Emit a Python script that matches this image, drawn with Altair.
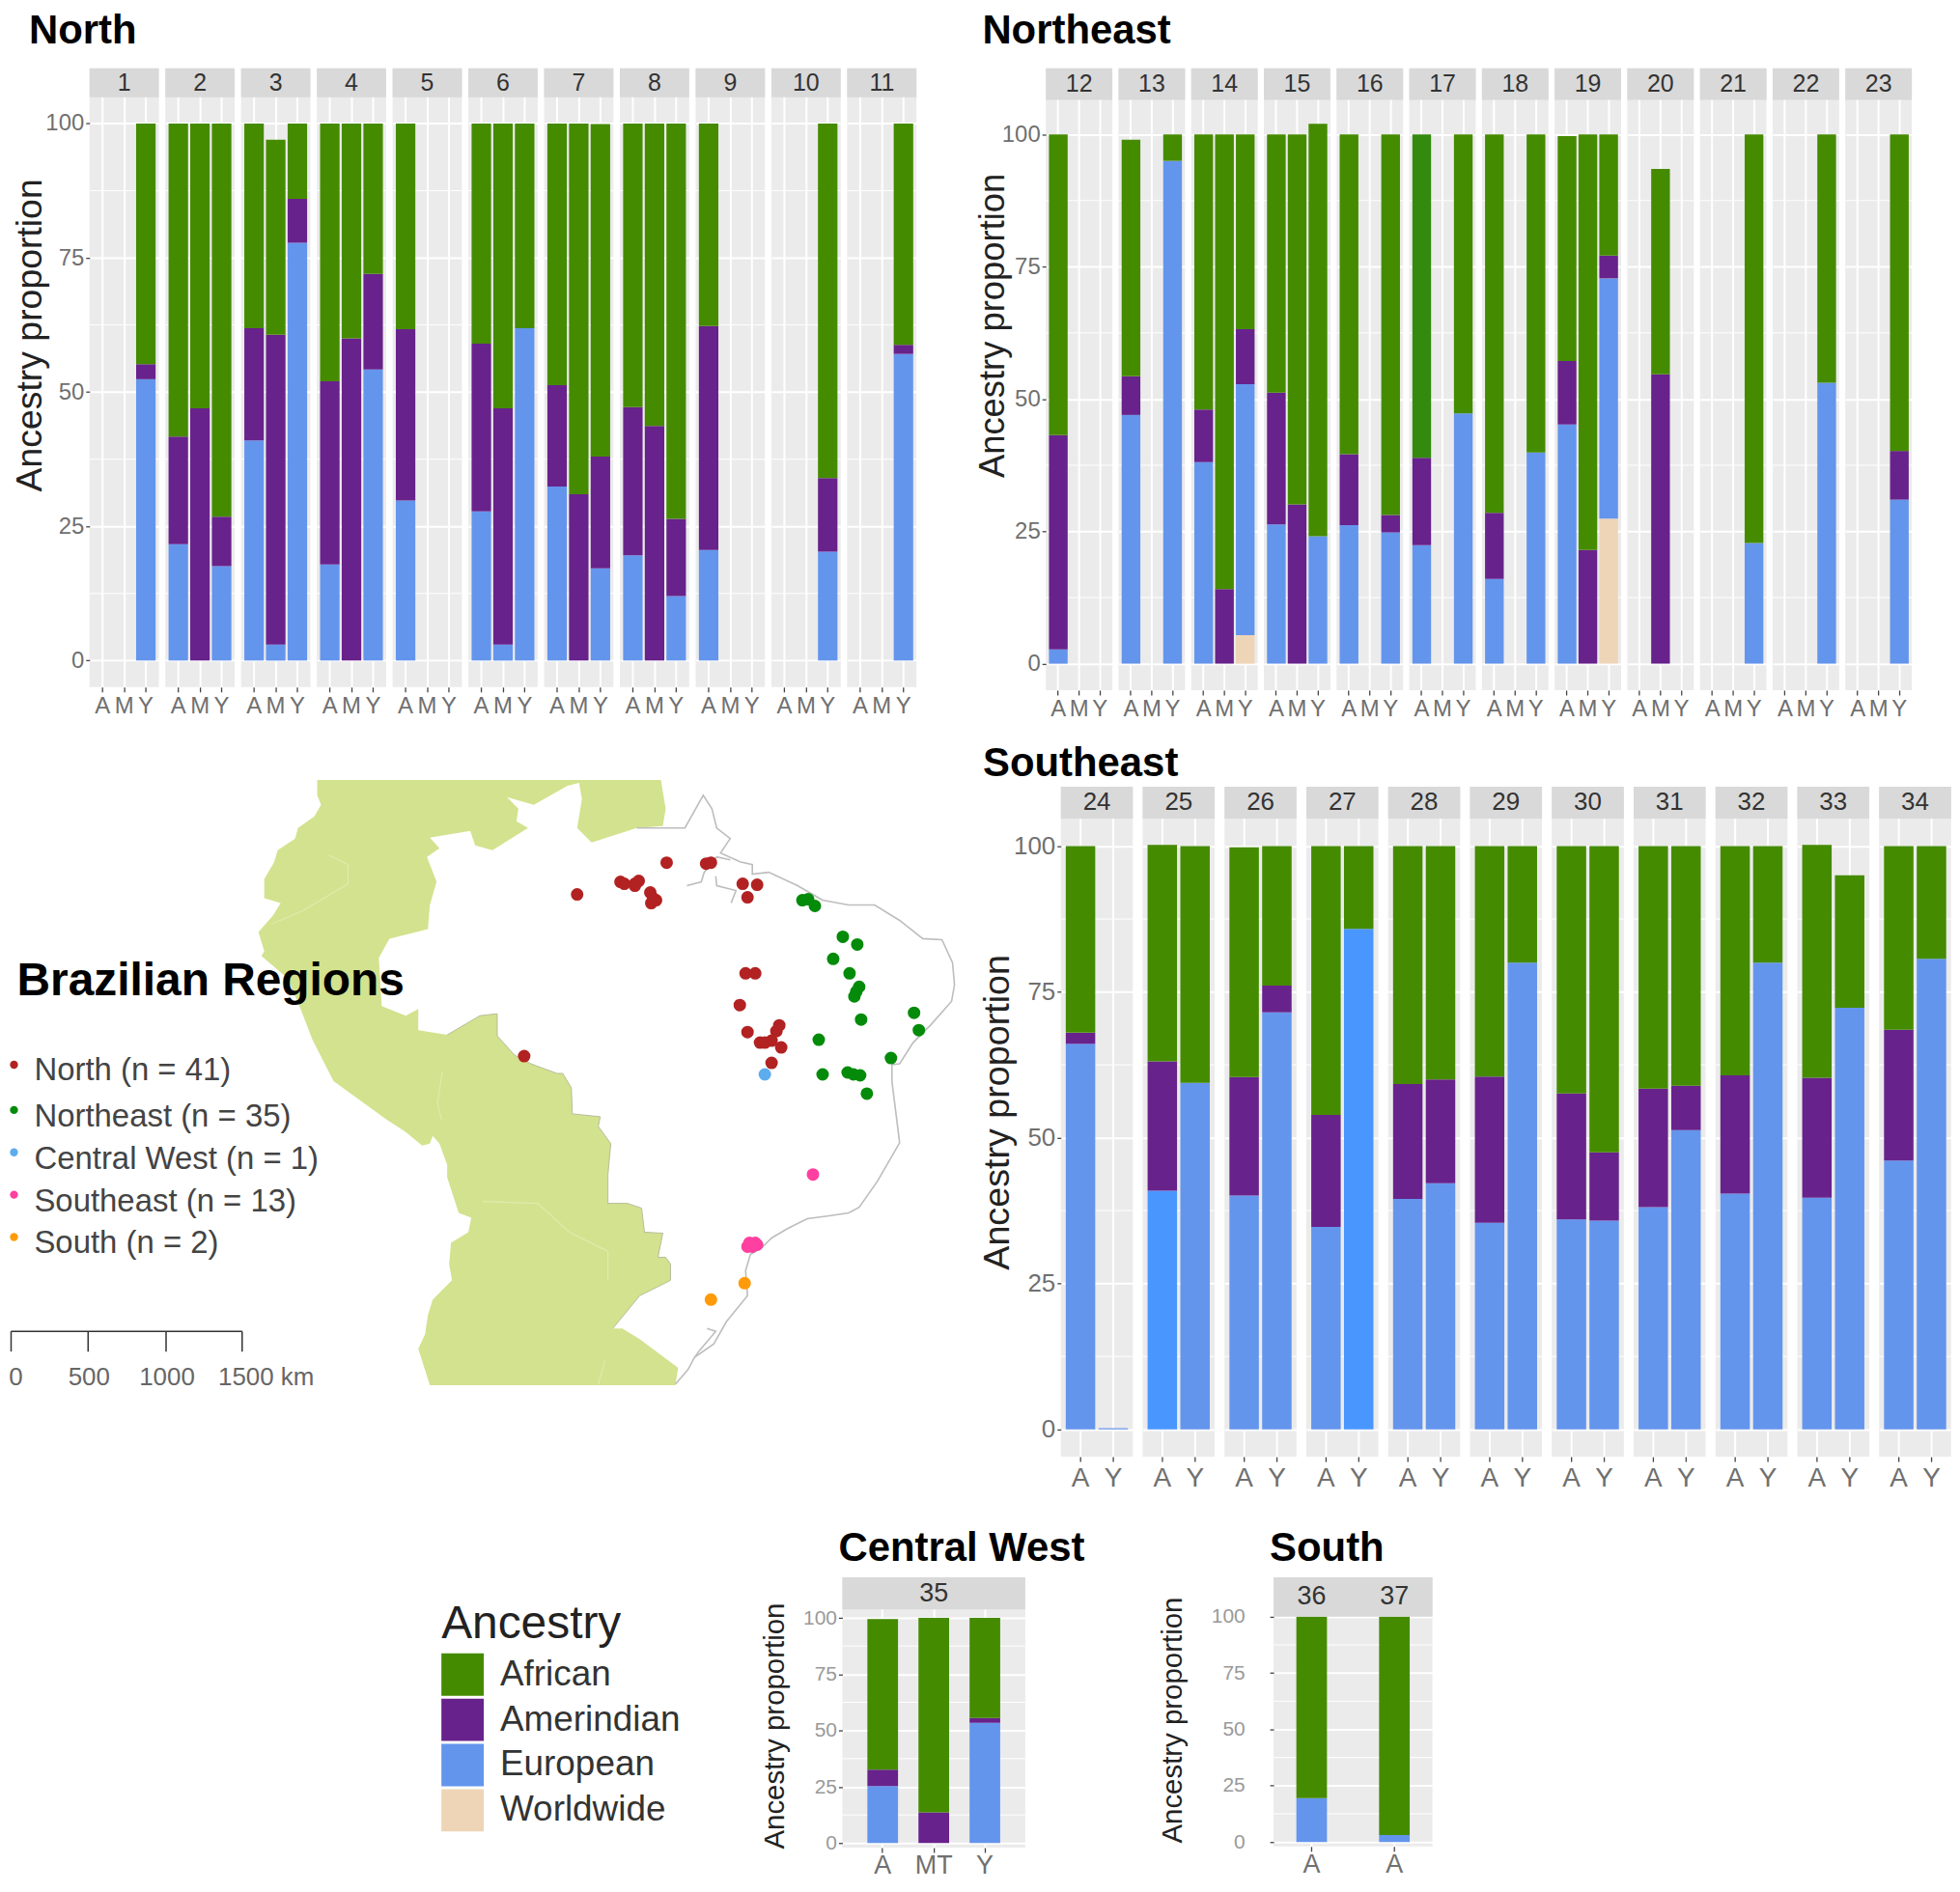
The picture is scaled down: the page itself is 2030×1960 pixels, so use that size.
import altair as alt
import pandas as pd

# ---------- ancestry values: cumulative tops of each stacked bar ----------
NORTH_PANEL = [1, 2, 2, 2, 3, 3, 3, 4, 4, 4, 5, 6, 6, 6, 7, 7, 7, 8, 8, 8, 9, 10, 11]
NORTH_AGE = ["Y", "A", "M", "Y", "A", "M", "Y", "A", "M", "Y", "A", "A", "M", "Y", "A", "M", "Y", "A", "M", "Y", "A", "Y", "Y"]
NORTH_EUR = [52.4, 21.7, 0, 17.6, 41, 3, 77.8, 17.9, 0, 54.2, 29.8, 27.8, 3, 61.9, 32.4, 0, 17.2, 19.6, 0, 12, 20.6, 20.3, 57.1]
NORTH_AME = [55.2, 41.7, 47, 26.8, 61.9, 60.7, 86, 52, 60, 72, 61.7, 59, 47, 61.9, 51.3, 31, 38, 47.2, 43.7, 26.4, 62.3, 34, 58.8]
NORTH_AFR = [100, 100, 100, 100, 100, 97, 100, 100, 100, 100, 100, 100, 100, 100, 100, 100, 99.9, 100, 100, 100, 100, 100, 100]

NE_PANEL = [12, 13, 13, 14, 14, 14, 15, 15, 15, 16, 16, 17, 17, 18, 18, 19, 19, 19, 20, 21, 22, 23]
NE_AGE = ["A", "A", "Y", "A", "M", "Y", "A", "M", "Y", "A", "Y", "A", "Y", "A", "Y", "A", "M", "Y", "M", "Y", "Y", "Y"]
NE_WOR = [0, 0, 0, 0, 0, 5.4, 0, 0, 0, 0, 0, 0, 0, 0, 0, 0, 0, 27.4, 0, 0, 0, 0]
NE_EUR = [2.7, 47, 95, 38.1, 0, 52.8, 26.3, 0, 24.1, 26.2, 24.8, 22.4, 47.3, 16, 39.9, 45.2, 0, 72.8, 0, 22.8, 53.1, 31]
NE_AME = [43.2, 54.3, 95, 48, 14.1, 63.2, 51.2, 30.1, 24.1, 39.6, 28.1, 38.9, 47.3, 28.5, 39.9, 57.2, 21.5, 77.1, 54.7, 22.8, 53.1, 40.2]
NE_AFR = [100, 99, 100, 100, 100, 100, 100, 100, 102, 100, 100, 100, 100, 100, 100, 99.7, 100, 100, 93.5, 100, 100, 100]

SE_PANEL = [24, 24, 25, 25, 26, 26, 27, 27, 28, 28, 29, 29, 30, 30, 31, 31, 32, 32, 33, 33, 34, 34]
SE_AGE = ["A", "Y"] * 11
SE_EUR = [66.1, 0.2, 40.9, 59.4, 40.1, 71.5, 34.7, 85.8, 39.5, 42.2, 35.4, 80, 36, 35.8, 38.1, 51.3, 40.4, 80, 39.7, 72.3, 46.1, 80.7]
SE_AME = [68, 0.2, 63.1, 59.4, 60.4, 76.1, 53.9, 85.8, 59.2, 60, 60.5, 80, 57.6, 47.5, 58.4, 58.9, 60.7, 80, 60.3, 72.3, 68.5, 80.7]
SE_AFR = [100, 0.2, 100.2, 100, 99.8, 100, 100, 100, 100, 100, 100, 100, 100, 100, 100, 100, 100, 100, 100.2, 95, 100, 100]

CW_AGE = ["A", "MT", "Y"]
CW_EUR = [25.3, 0, 53.4]
CW_AME = [32.6, 13.6, 55.5]
CW_AFR = [99.5, 100, 100]

SOUTH_PANEL = ["36", "37"]
SOUTH_EUR = [19.5, 3.1]
SOUTH_AFR = [100, 100]

# bars that are a brighter shade in the picture
BRIGHT = {(17, "A", "African"), (25, "A", "European"), (27, "Y", "European")}

ANCESTRY = ["African", "Amerindian", "European", "Worldwide"]
ANCESTRY_COLORS = ["#458B00", "#68228B", "#6495ED", "#EED5B7"]
ALL_SHADES = ANCESTRY + ["African bright", "European bright"]
ALL_COLORS = ANCESTRY_COLORS + ["#338A0F", "#4A96FF"]

# ---------- map data (map units, y pointing down) ----------
LAND = [(328,807),(328,823),(332,833),(325,845),(308,857),(305,868),(287,880),(283,893),(273,910),(273,930),(290,935),(282,948),(267,965),(273,985),(270,990),(297,1013),(310,1043),(323,1077),(345,1120),(400,1160),(420,1173),(437,1187),(445,1185),(448,1177),(455,1185),(463,1207),(463,1220),(475,1257),(488,1262),(485,1277),(467,1288),(465,1310),(468,1327),(448,1347),(443,1363),(440,1383),(433,1398),(445,1436),(700,1436),(703,1418),(663,1388),(645,1377),(635,1377),(663,1343),(695,1327),(695,1310),(690,1303),(682,1303),(687,1278),(668,1277),(665,1252),(650,1247),(630,1247),(630,1217),(633,1185),(620,1167),(622,1157),(593,1154),(592,1127),(583,1112),(577,1112),(550,1102),(533,1093),(515,1073),(515,1050),(497,1052),(463,1072),(433,1067),(433,1045),(420,1052),(395,1042),(392,992),(403,972),(443,962),(445,937),(452,913),(442,887),(455,878),(445,867),(487,860),(492,875),(510,880),(547,857),(535,850),(537,837),(525,825),(553,833),(588,813),(600,810),(603,827),(598,857),(613,872),(660,857),(687,855),(690,837),(685,807)]
COAST = [(660,857),(687,857),(710,857),(729,823),(738,837),(743,857),(757,868),(747,883),(767,892),(780,895),(780,905),(797,903),(827,917),(853,932),(880,937),(907,937),(933,953),(957,972),(977,973),(988,997),(990,1020),(987,1037),(965,1062),(947,1080),(933,1102),(925,1103),(925,1120),(929,1152),(933,1184),(910,1224),(891,1251),(880,1257),(860,1260),(837,1263),(817,1273),(800,1283),(790,1293),(778,1300),(773,1317),(775,1343),(753,1370),(740,1393),(720,1407),(713,1420),(700,1435)]
RIVER_A = [(712,917),(727,913),(730,903),(743,887),(757,890)]
RIVER_B = [(758,935),(763,922),(743,917),(742,907)]
LAGOON = [(733,1377),(742,1380),(725,1400),(720,1407)]
WEST_BORDER = [(463,1072),(497,1052),(515,1050),(515,1073),(533,1093),(550,1102),(577,1112),(583,1112),(592,1127),(593,1154),(622,1157),(620,1167),(633,1185),(630,1217),(630,1247),(650,1247),(665,1252),(668,1277),(687,1278),(682,1303),(690,1303),(695,1310),(695,1327),(663,1343),(635,1377)]
INNER_A = [(458,1110),(453,1143),(457,1160)]
INNER_B = [(500,1245),(557,1247),(590,1277),(630,1297),(630,1327)]
INNER_C = [(627,1410),(620,1435)]
INNER_D = [(340,885),(360,895),(360,915),(313,943),(280,957)]

SITE_X = {
    "North": [598,643,647,658,662,658,674,680,675,677,691,543,732,737,770,785,775,773,783,767,775,808,805,800,788,793,810,800],
    "Northeast": [832,838,845,874,889,864,881,891,888,886,893,948,953,849,924,853,879,885,892,899],
    "Central West": [793],
    "Southeast": [843,777,783,780,775,785],
    "South": [772,737],
}
SITE_Y = {
    "North": [926,913,915,915,912,917,924,932,935,930,893,1094,894,893,915,916,929,1008,1008,1041,1069,1062,1068,1078,1080,1080,1085,1101],
    "Northeast": [932,931,938,970,978,993,1008,1022,1027,1032,1056,1049,1067,1077,1096,1113,1111,1113,1114,1133],
    "Central West": [1113],
    "Southeast": [1217,1288,1288,1292,1292,1290],
    "South": [1330,1347],
}
REGIONS = ["North", "Northeast", "Central West", "Southeast", "South"]
REGION_COLORS = ["#B22222", "#048B0A", "#5CADEE", "#FF40A0", "#FF9B0A"]
REGION_LABELS = ["North (n = 41)", "Northeast (n = 35)", "Central West (n = 1)", "Southeast (n = 13)", "South (n = 2)"]
KEY_DOT_X = [13, 13, 13, 13, 13]
KEY_DOT_Y = [1103, 1150, 1194, 1238, 1282]
KEY_TEXT_X = [34, 34, 34, 34, 34]
KEY_TEXT_Y = [1119, 1167, 1211, 1255, 1299]

BAR_X = [10, 90, 171, 250]
BAR_LABELS = ["0", "500", "1000", "1500 km"]
BAR_LABEL_X = [15, 91, 172, 275]
BAR_TOP = 1380
BAR_BOTTOM = 1401
BAR_LABEL_Y = 1436

# ---------- layout constants ----------
ORIGIN_X = 91.5
ROW2_TOP = 814
FONT = "Liberation Sans"
STRIP = "#D9D9D9"
PANEL_BG = "#EBEBEB"
MAJOR = [0, 25, 50, 75, 100]
MINOR = [12.5, 37.5, 62.5, 87.5]

ANCESTRY_LEGEND = alt.Legend(
    orient="none", legendX=365.5, legendY=1593, values=ANCESTRY, title="Ancestry", titleFontSize=48,
    titleFontWeight="normal", titleColor="#222222", titlePadding=6, titleLimit=400, labelFontSize=37,
    labelColor="#333333", symbolType="square", symbolSize=1936, symbolStrokeWidth=0, rowPadding=3,
    labelOffset=17, labelLimit=300, padding=0)


def segments(panel, age, wor, eur, ame, afr):
    out = []
    for name, lo, hi in (("Worldwide", 0, wor), ("European", wor, eur),
                         ("Amerindian", eur, ame), ("African", ame, afr)):
        if hi > lo:
            shade = name + " bright" if (panel, age, name) in BRIGHT else name
            out.append({"cat": age, "lo": lo, "hi": hi, "anc": shade})
    return out


def panel(label, rows, cats, w, ydom, ppu, strip_lo, pi=0.1, po=0.15, left=None,
          strip_size=25, tick_size=24, x_size=24, y_color="#707070", x_color="#707070",
          strip_cats=None, label_expr=None, y_pad=2, x_pad=3):
    h = round((ydom[1] - ydom[0]) * ppu, 1)
    yscale = alt.Scale(domain=ydom, nice=False, zero=False)
    if left:
        yaxis = alt.Axis(values=MAJOR, grid=True, gridColor="white", gridWidth=2, domain=False,
                         tickColor="#444444", tickSize=4, tickWidth=1.3, labelFontSize=tick_size,
                         labelColor=y_color, labelPadding=y_pad, title="Ancestry proportion",
                         titleFontSize=left["size"], titleFontWeight="normal", titleColor="#222222",
                         titleX=left["x"], titleY=left["y"], labelOverlap=False)
    else:
        yaxis = alt.Axis(values=MAJOR, grid=True, gridColor="white", gridWidth=2, domain=False,
                         ticks=False, labels=False, title=None)
    xprops = dict(title=None, labelAngle=0, grid=True, gridColor="white", gridWidth=2, domain=False,
                  tickColor="#444444", tickSize=5, tickWidth=1.3, labelFontSize=x_size,
                  labelColor=x_color, labelPadding=x_pad, labelOverlap=False)
    if label_expr:
        xprops["labelExpr"] = label_expr
    xaxis = alt.Axis(**xprops)
    xscale = alt.Scale(domain=cats, paddingInner=pi, paddingOuter=po)
    color = alt.Color("anc:N", scale=alt.Scale(domain=ALL_SHADES, range=ALL_COLORS), legend=ANCESTRY_LEGEND)
    ychan = lambda f: alt.Y(f, scale=yscale, axis=yaxis)

    minor = alt.Chart(pd.DataFrame({"v": MINOR})).mark_rule(color="white", strokeWidth=1).encode(
        y=ychan("v:Q"), x=alt.value(0), x2=alt.value(w))
    bars = alt.Chart(pd.DataFrame(rows)).mark_bar().encode(
        x=alt.X("cat:N", scale=xscale, axis=xaxis, sort=cats),
        y=ychan("lo:Q"), y2="hi:Q", color=color)
    strip = alt.Chart(pd.DataFrame({"lo": [strip_lo], "hi": [ydom[1]]})).mark_rect(color=STRIP).encode(
        y=ychan("lo:Q"), y2="hi:Q", x=alt.value(0), x2=alt.value(w))
    mid = (strip_lo + ydom[1]) / 2
    text_style = dict(fontSize=strip_size, color="#333333", baseline="middle", align="center")
    if strip_cats:
        strip_text = alt.Chart(pd.DataFrame({"cat": cats, "t": strip_cats, "m": [mid] * len(cats)})).mark_text(**text_style).encode(
            x=alt.X("cat:N", scale=xscale, axis=xaxis, sort=cats),
            y=ychan("m:Q"), text="t:N")
    else:
        strip_text = alt.Chart(pd.DataFrame({"t": [str(label)], "m": [mid]})).mark_text(**text_style).encode(
            x=alt.value(w / 2), y=ychan("m:Q"), text="t:N")
    return alt.layer(minor, bars, strip, strip_text).properties(
        width=w, height=h, view=alt.ViewBackground(fill=PANEL_BG, stroke=None))


def region_rows(panels, ages, eur, ame, afr, wor=None):
    by_panel = {}
    wor = wor or [0] * len(panels)
    for p, a, w_, e, m, f in zip(panels, ages, wor, eur, ame, afr):
        by_panel.setdefault(p, []).extend(segments(p, a, w_, e, m, f))
    return by_panel


def region_title(text, dx, offset, dy=0):
    return alt.TitleParams(text=text, anchor="start", fontSize=42, fontWeight="bold", color="#000000",
                           dx=dx, dy=dy, offset=offset, frame="group")


# ---------- North ----------
north = region_rows(NORTH_PANEL, NORTH_AGE, NORTH_EUR, NORTH_AME, NORTH_AFR)
north_charts = []
for i, p in enumerate(sorted(north)):
    north_charts.append(panel(
        p, north[p], ["A", "M", "Y"], 72, [-4.93, 110.3], 5.58, 104.9,
        left=dict(size=37.5, x=-42, y=277) if i == 0 else None))
north_group = alt.hconcat(*north_charts, spacing=4.7).properties(title=region_title("North", -63, 0.5, -16))

# ---------- Northeast ----------
ne = region_rows(NE_PANEL, NE_AGE, NE_EUR, NE_AME, NE_AFR, NE_WOR)
ne_charts = []
for i, p in enumerate(sorted(ne)):
    ne_charts.append(panel(
        p, ne[p], ["A", "M", "Y"], 69.1, [-5, 112.5], 5.5, 106.5,
        left=dict(size=36.5, x=-36, y=267) if i == 0 else None))
ne_group = alt.hconcat(*ne_charts, spacing=4.5).properties(title=region_title("Northeast", -66, 0.5, -16))

# ---------- Southeast ----------
se = region_rows(SE_PANEL, SE_AGE, SE_EUR, SE_AME, SE_AFR)
se_charts = []
for i, p in enumerate(sorted(se)):
    se_charts.append(panel(
        p, se[p], ["A", "Y"], 74.8, [-4.7, 110.2], 6.06, 104.7,
        strip_size=26, tick_size=26, x_size=28,
        left=dict(size=37.8, x=-46, y=338) if i == 0 else None))
se_group = alt.hconcat(*se_charts, spacing=8).properties(title=region_title("Southeast", -81, 2))

# ---------- Central West / South ----------
cw_rows = []
for a, e, m, f in zip(CW_AGE, CW_EUR, CW_AME, CW_AFR):
    cw_rows.extend(segments(35, a, 0, e, m, f))
cw = panel(35, cw_rows, CW_AGE, 190, [-2, 118], 2.34, 103.8, pi=0.4, po=0.49,
           strip_size=27, tick_size=21, x_size=27, y_color="#999999", x_pad=1,
           left=dict(size=29.5, x=-55, y=154)).properties(title=region_title("Central West", -4, 8))

south_cats = ["36 A", "37 A"]
south_rows = []
for c, e, f in zip(south_cats, SOUTH_EUR, SOUTH_AFR):
    south_rows.extend(segments(c, c, 0, e, e, f))
south = panel("", south_rows, south_cats, 165, [-2, 117.5], 2.34, 100, pi=0.63, po=0.275,
              strip_size=27, tick_size=21, x_size=27, y_color="#999999", x_pad=1,
              strip_cats=SOUTH_PANEL, label_expr="'A'", y_pad=26,
              left=dict(size=29.5, x=-90, y=148)).properties(title=region_title("South", -4, 8))

spacer = alt.Chart(pd.DataFrame({"v": [0]})).mark_rect(opacity=0).encode(
    x=alt.value(0), x2=alt.value(0), y=alt.value(0), y2=alt.value(0)
).properties(width=680, height=250, view=alt.ViewBackground(fill=None, stroke=None))


# ---------- map ----------
def feature(kind, pts):
    coords = [list(p) for p in pts]
    geom = {"type": "Polygon", "coordinates": [coords + [coords[0]]]} if kind == "land" else {"type": "LineString", "coordinates": coords}
    return {"type": "Feature", "geometry": geom, "properties": {"kind": kind}}


def geo(features, **style):
    return alt.Chart(alt.InlineData(values={"type": "FeatureCollection", "features": features},
                                    format=alt.DataFormat(property="features", type="json"))).mark_geoshape(clip=False, **style)


proj = alt.Projection(type="identity", scale=1, translate=[-ORIGIN_X, -ROW2_TOP])
land = geo([feature("land", LAND)], fill="#D3E28E", stroke=None)
inner = geo([feature("line", p) for p in (INNER_A, INNER_B, INNER_C, INNER_D)], filled=False, stroke="#DFEBAE", strokeWidth=1.2)
border = geo([feature("line", WEST_BORDER)], filled=False, stroke="#B7BD9A", strokeWidth=1)
coast = geo([feature("line", p) for p in (COAST, RIVER_A, RIVER_B, LAGOON)], filled=False, stroke="#BDBDBD", strokeWidth=1.6)

site_rows = []
for r in REGIONS:
    site_rows += [{"region": r, "x": x, "y": y} for x, y in zip(SITE_X[r], SITE_Y[r])]
region_scale = alt.Scale(domain=REGIONS, range=REGION_COLORS)
sites = alt.Chart(pd.DataFrame(site_rows)).mark_circle(size=170, opacity=1, clip=False).encode(
    longitude="x:Q", latitude="y:Q", color=alt.Color("region:N", scale=region_scale, legend=None))
key_dots = alt.Chart(pd.DataFrame({"region": REGIONS, "x": KEY_DOT_X, "y": KEY_DOT_Y})).mark_circle(size=70, opacity=1, clip=False).encode(
    longitude="x:Q", latitude="y:Q", color=alt.Color("region:N", scale=region_scale, legend=None))
key_text = alt.Chart(pd.DataFrame({"t": REGION_LABELS, "x": KEY_TEXT_X, "y": KEY_TEXT_Y})).mark_text(
    fontSize=33, color="#444444", align="left", baseline="alphabetic", clip=False).encode(longitude="x:Q", latitude="y:Q", text="t:N")
map_title = alt.Chart(pd.DataFrame({"t": ["Brazilian Regions"], "x": [16], "y": [1031]})).mark_text(
    fontSize=48, fontWeight="bold", color="#000000", align="left", baseline="alphabetic", clip=False).encode(
    longitude="x:Q", latitude="y:Q", text="t:N")
bar_line = geo([feature("line", [(BAR_X[0], BAR_TOP), (BAR_X[-1], BAR_TOP)])] +
               [feature("line", [(x, BAR_TOP), (x, BAR_BOTTOM)]) for x in BAR_X],
               filled=False, stroke="#333333", strokeWidth=1.5)
bar_text = alt.Chart(pd.DataFrame({"t": BAR_LABELS, "x": BAR_LABEL_X, "y": [BAR_LABEL_Y] * 4})).mark_text(
    fontSize=26, color="#666666", align="center", baseline="alphabetic", clip=False).encode(longitude="x:Q", latitude="y:Q", text="t:N")

map_chart = alt.layer(land, inner, border, coast, sites, key_dots, key_text, map_title, bar_line, bar_text).properties(
    width=900, height=696, projection=proj, view=alt.ViewBackground(fill=None, stroke=None)
).resolve_scale(color="independent")

# ---------- assemble ----------
row1 = alt.hconcat(north_group, ne_group, spacing=60.4)
row2 = alt.hconcat(map_chart, se_group, spacing=23)
row3 = alt.hconcat(alt.hconcat(spacer, cw, spacing=16), south, spacing=75)

chart = alt.vconcat(alt.vconcat(row1, row2, spacing=22.4), row3, spacing=38).configure(
    font=FONT, padding=0, background="white")
chart.save("out.html", embed_options={"renderer": "svg", "actions": False})
